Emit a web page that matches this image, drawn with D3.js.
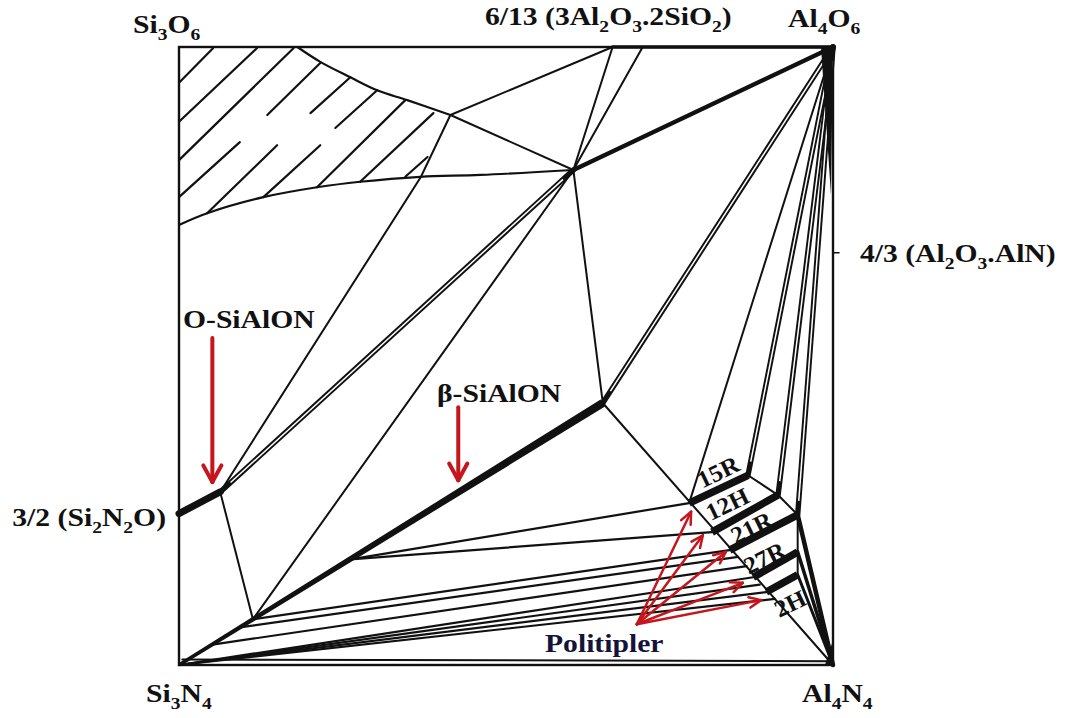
<!DOCTYPE html>
<html>
<head>
<meta charset="utf-8">
<script src="https://cdn.jsdelivr.net/npm/d3@7/dist/d3.min.js"></script>
<style>
  body { margin: 0; background: #fff; }
  svg text { font-family: "Liberation Serif", "Times New Roman", serif; font-weight: bold; }
</style>
</head>
<body>
<svg id="chart" width="1070" height="718"></svg>
<script>
// Si-Al-O-N behaviour diagram, equivalent %: x = Al (Si -> Al), y = O (N -> O)

// named compositions / invariant points
const nodes = {
  Si3N4: [0, 0], AlN: [100, 0], Al2O3: [100, 100], SiO2: [0, 100],
  Si2N2O: [0, 24.5],
  O1: [6.3, 28.0],    // O'-sialon limit
  P1: [11.3, 7.4],
  F2: [5.1, 3.3],
  F1: [9.3, 6.1],
  Q1: [26.2, 17.1],
  B1: [64.8, 42.4],   // beta-sialon limit
  N1: [60.3, 80.1],
  C1: [41.5, 89.0],
  K1: [37.0, 79.0],
  M1: [66.3, 100], M2: [70.9, 100],
  E1: [85.5, 17.5], E2: [86.8, 16.0], E3: [88.8, 13.0], E4: [91.1, 10.7],
  G1: [0.5, 0.9], G2: [100, 0.6]
};

// polytypoid bands
const polytypes = ["15R", "12H", "21R", "27R", "2H"];
const bandLeftX = [78.0, 81.5, 84.2, 87.8, 89.8];
const bandLeftY = [26.2, 21.5, 18.6, 14.2, 11.8];
const bandRightX = [87.0, 91.6, 94.6, 94.6, 94.6];
const bandRightY = [30.7, 27.5, 24.3, 18.3, 14.6];
const bandLabelX = [82.6, 84.0, 87.7, 89.7, 93.6];
const bandLabelY = [30.9, 25.7, 21.9, 17.0, 9.6];

// tie lines
const thinLines = [
  ["C1", "M1"], ["C1", "N1"], ["N1", "M1"], ["N1", "M2"], ["N1", "P1"], ["N1", "B1"],
  ["O1", "P1"], ["B1", "AlN"], ["Al2O3", "L15R"], ["G1", "G2"],
  ["R15R", "R12H"], ["R12H", "R21R"], ["R21R", "R27R"], ["R27R", "R2H"]
];
const fanLines = [
  ["Q1", "L15R"], ["Q1", "L12H"], ["P1", "L21R"], ["F1", "E1"], ["F2", "E2"],
  ["Si3N4", "L27R"], ["Si3N4", "E3"], ["Si3N4", "L2H"], ["Si3N4", "E4"]
];
const doubleLines = [
  ["N1", "O1"], ["Al2O3", "B1"], ["Al2O3", "R15R"], ["Al2O3", "R12H"], ["Al2O3", "R21R"]
];
const heavyLines = [
  ["Si2N2O", "O1", 7], ["N1", "Al2O3", 4.2], ["M1", "Al2O3", 3.5],
  ["R21R", "AlN", 4.5], ["R27R", "AlN", 3.5], ["R2H", "AlN", 3]
];

// curves bounding the hatched field
const topCurveX = [18.1, 21.6, 26.2, 30.3, 34.9, 41.5];
const topCurveY = [100, 97.6, 95.1, 93.0, 91.4, 89.0];
const lowCurveX = [0, 4.3, 12.9, 21.1, 27.7, 36.9, 46.1, 60.3];
const lowCurveY = [71.2, 73.1, 75.7, 77.3, 78.2, 79.0, 79.3, 80.1];

// hatch strokes [x1, y1, x2, y2]
const hatch = [
  [0, 94.2, 5.2, 99.8], [0, 87.9, 11.9, 99.8], [0, 81.7, 17.5, 99.8],
  [0, 75.7, 9.3, 84.6], [4.3, 73.1, 15.0, 84.1], [12.9, 75.7, 21.6, 84.1],
  [13.5, 89.0, 21.6, 97.4], [20.1, 89.3, 26.2, 95.1], [23.9, 86.9, 30.3, 93.0],
  [21.1, 77.3, 34.6, 91.4], [27.7, 78.2, 38.9, 89.3], [34.6, 79.0, 38.0, 82.2]
];

// red arrows
const polyArrowFrom = [70.0, 6.6];
const polyArrowX = [78.3, 80.1, 83.6, 86.2, 89.0];
const polyArrowY = [24.8, 21.0, 18.3, 13.3, 10.5];
const phaseArrowX = [5.1, 42.7];
const phaseArrowTop = [52.9, 41.7];
const phaseArrowTip = [29.6, 29.9];

polytypes.forEach((p, i) => {
  nodes["L" + p] = [bandLeftX[i], bandLeftY[i]];
  nodes["R" + p] = [bandRightX[i], bandRightY[i]];
});

const ink = "#111";
const red = "#c4161c";

const x = d3.scaleLinear().domain([0, 100]).range([179, 833]);
const y = d3.scaleLinear().domain([0, 100]).range([665, 47]);
const px = id => [x(nodes[id][0]), y(nodes[id][1])];

const svg = d3.select("#chart");
const g = svg.append("g");

function seg(a, b, w, color) {
  return g.append("line")
    .attr("x1", a[0]).attr("y1", a[1]).attr("x2", b[0]).attr("y2", b[1])
    .attr("stroke", color || ink).attr("stroke-width", w).attr("stroke-linecap", "round");
}

// frame
g.append("rect")
  .attr("x", x(0)).attr("y", y(100))
  .attr("width", x(100) - x(0)).attr("height", y(0) - y(100))
  .attr("fill", "none").attr("stroke", ink).attr("stroke-width", 2.4);
seg([x(100), y(66.7)], [x(100) + 6, y(66.7)], 1.6);

// hatching
hatch.forEach(h => seg([x(h[0]), y(h[1])], [x(h[2]), y(h[3])], 2.2));

// curves
const curve = d3.line().x(d => x(d[0])).y(d => y(d[1])).curve(d3.curveCatmullRom);
g.append("path").attr("d", curve(topCurveX.map((v, i) => [v, topCurveY[i]])))
  .attr("fill", "none").attr("stroke", ink).attr("stroke-width", 2.2);
g.append("path").attr("d", curve(lowCurveX.map((v, i) => [v, lowCurveY[i]])))
  .attr("fill", "none").attr("stroke", ink).attr("stroke-width", 2.2);
g.append("path")
  .attr("d", d3.line()(["C1", "K1", "O1"].map(px)))
  .attr("fill", "none").attr("stroke", ink).attr("stroke-width", 2);

// thin tie lines
thinLines.forEach(l => seg(px(l[0]), px(l[1]), 2));
fanLines.forEach(l => seg(px(l[0]), px(l[1]), 2.2));

// double lines: black stroke with a white core trimmed at the ends
doubleLines.forEach(l => {
  const a = px(l[0]), b = px(l[1]);
  seg(a, b, 5.4);
  const len = Math.hypot(b[0] - a[0], b[1] - a[1]);
  const ux = (b[0] - a[0]) / len, uy = (b[1] - a[1]) / len;
  const t = 14;
  seg([a[0] + ux * t, a[1] + uy * t], [b[0] - ux * t, b[1] - uy * t], 1.5, "#fff")
    .attr("stroke-linecap", "butt");
});

heavyLines.forEach(l => seg(px(l[0]), px(l[1]), l[2]));

// beta-sialon line, widening towards its limit
(function () {
  const a = px("Si3N4"), b = px("B1");
  const len = Math.hypot(b[0] - a[0], b[1] - a[1]);
  const nx = -(b[1] - a[1]) / len, ny = (b[0] - a[0]) / len;
  const w0 = 1.8, w1 = 4.2;
  g.append("path")
    .attr("d", d3.line()([
      [a[0] + nx * w0, a[1] + ny * w0], [b[0] + nx * w1, b[1] + ny * w1],
      [b[0] - nx * w1, b[1] - ny * w1], [a[0] - nx * w0, a[1] - ny * w0]
    ]) + "Z")
    .attr("fill", ink);
})();

// dark corners where the tie lines bunch
g.append("path")
  .attr("d", d3.line()([[x(100) - 12, y(100)], [x(100), y(100)], [x(100) - 2, y(76)]]) + "Z")
  .attr("fill", ink);
g.append("path")
  .attr("d", d3.line()([[x(100) - 8, y(0)], [x(100), y(0)], [x(100), y(4)]]) + "Z")
  .attr("fill", ink);

// polytypoid bands
polytypes.forEach(p => seg(px("L" + p), px("R" + p), 7.5).attr("stroke-linecap", "butt"));

// labels with subscripts ("_3" -> subscript 3)
function label(str, x0, y0, size, opts) {
  opts = opts || {};
  const t = svg.append("text")
    .attr("transform", `translate(${x0},${y0}) rotate(${opts.rot || 0}) scale(${opts.sx || 1.14},1)`)
    .attr("font-size", size)
    .attr("text-anchor", opts.anchor || "start")
    .attr("fill", opts.color || ink);
  let sub = false;
  str.split(/(_\d)/).forEach(p => {
    if (!p) return;
    if (p[0] === "_") {
      t.append("tspan").attr("dy", sub ? 0 : size * 0.25).attr("font-size", size * 0.66).text(p.slice(1));
      sub = true;
    } else {
      t.append("tspan").attr("dy", sub ? -size * 0.25 : 0).text(p);
      sub = false;
    }
  });
  return t;
}

label("Si_3O_6", 133, 33, 26);
label("6/13 (3Al_2O_3.2SiO_2)", 485, 25, 26);
label("Al_4O_6", 788, 27, 26);
label("4/3 (Al_2O_3.AlN)", 860, 262, 26);
label("3/2 (Si_2N_2O)", 166, 526, 26, { anchor: "end" });
label("Si_3N_4", 146, 702, 26);
label("Al_4N_4", 802, 702, 26);
label("O-SiAlON", 183, 328, 26);
label("β-SiAlON", 437, 402, 26);
label("Politipler", 545, 652, 26, { color: "#14143a" });

polytypes.forEach((p, i) => {
  label(p, x(bandLabelX[i]), y(bandLabelY[i]), 24, { anchor: "middle", rot: -26, sx: 1.05 })
    .attr("dominant-baseline", "middle");
});

// red arrows
function arrow(a, b, w, head, spread) {
  seg(a, b, w, red);
  const ang = Math.atan2(b[1] - a[1], b[0] - a[0]);
  [-spread, spread].forEach(s => {
    const t = ang + Math.PI + s;
    seg(b, [b[0] + Math.cos(t) * head, b[1] + Math.sin(t) * head], w, red);
  });
}
polyArrowX.forEach((v, i) => {
  arrow([x(polyArrowFrom[0]), y(polyArrowFrom[1])], [x(v), y(polyArrowY[i])], 2.5, 13, 0.42);
});
phaseArrowX.forEach((v, i) => {
  arrow([x(v), y(phaseArrowTop[i])], [x(v), y(phaseArrowTip[i])], 4, 19, 0.5);
});
</script>
</body>
</html>
